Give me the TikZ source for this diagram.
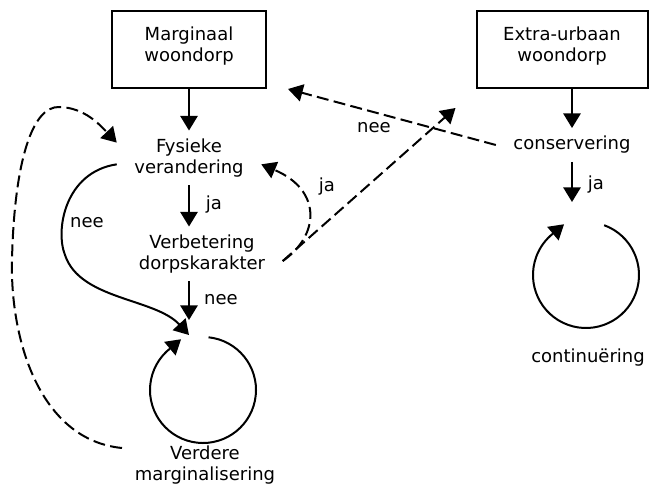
\documentclass[tikz,border=0pt]{standalone}
\usepackage{fontspec}
\setmainfont{DejaVu Sans}
\usepackage{tikz}
\usetikzlibrary{arrows.meta}
\tikzset{  box/.style={draw,line width=1.5pt,minimum height=57.75pt,text depth=8pt,align=center},
  txt/.style={align=center,inner xsep=13pt,inner ysep=6pt},
  lbl/.style={inner sep=0pt},
  arr/.style={-{Triangle[length=11pt,width=13pt]},line width=1.5pt},
  dsh/.style={arr,dash pattern=on 9pt off 4pt} }

\begin{document}
\begin{tikzpicture}[x=0.75pt,y=-0.75pt,font=\fontsize{13.5}{15.75}\selectfont]
   \useasboundingbox (0,0) rectangle (649,485);
   \node[box,minimum width=115.5pt] (marg) at (189,49.5) {Marginaal\\woondorp};
   \node[box,minimum width=128.25pt] (extra) at (562,49.5) {Extra-urbaan\\woondorp};
   \node[txt] (fys) at (189,158) {Fysieke\\verandering};
   \node[txt] (verb) at (202,254) {Verbetering\\dorpskarakter};
   \node[txt] (verd) at (205,465) {Verdere\\marginalisering};
   \node[txt] (cons) at (572,145) {conservering};
   \node[txt] (cont) at (588,358) {continuëring};
   \coordinate (lc) at (203,390);
   \coordinate (rc) at (586,275);
   \coordinate (ltop) at (189,320);
   \coordinate (lin) at (189,335);
   \coordinate (rtop) at (572,202);
   \coordinate (lp) at (122,448);
   \node[lbl] (n1) at (87,223) {nee};
   \node[lbl] (j1) at (214,205) {ja};
   \node[lbl] (n2) at (221,300) {nee};
   \node[lbl] (j2) at (327,187) {ja};
   \node[lbl] (n3) at (374,128) {nee};
   \node[lbl] (j3) at (596,185) {ja};
   \draw[arr] (marg) -- (fys);
   \draw[arr] (fys) -- (fys |- verb.north);
   \draw[arr] (verb.south -| fys) -- (ltop);
   \draw[arr] (extra.south -| cons) -- (cons);
   \draw[arr] (cons) -- (rtop);
   \draw[arr] (fys.185) .. controls (65,172) and (55,230) .. (65,255)
      .. controls (80,300) and (155,298) .. (lin);
   \draw[dsh] (lp) .. controls (40,440) and (10,340) .. (12,260)
      .. controls (14,170) and (30,105) .. (60,107)
      .. controls (85,108) and (100,125) .. (fys.168);
   \draw[dsh] (verb.-5) .. controls (320,235) and (322,190) .. (fys.-5);
   \draw[dsh] (verb.-5) -- ([shift={(-20,19)}]extra.south west);
   \draw[dsh] (cons.west) -- ([shift={(21,0)}]marg.south east);
   \draw[arr] (lc) ++(-84:53) arc[start angle=-84,end angle=232,radius=53] -- ++(-40:14);
   \draw[arr] (rc) ++(-70:53) arc[start angle=-70,end angle=232,radius=53] -- ++(-40:14);
\end{tikzpicture}
\end{document}
